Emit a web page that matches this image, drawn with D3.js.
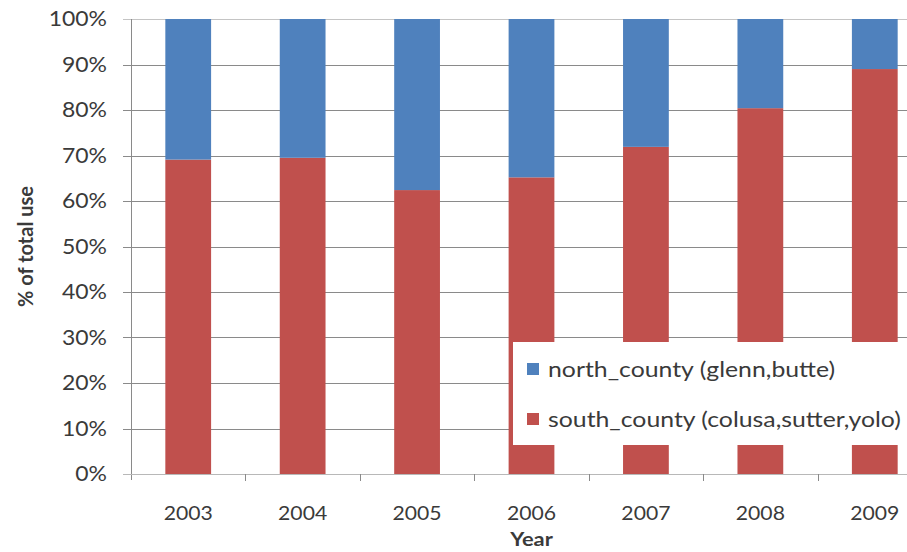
<!DOCTYPE html>
<html>
<head>
<meta charset="utf-8">
<script src="https://cdn.jsdelivr.net/npm/d3@7"></script>
<style>
  body { margin: 0; background: #fff; }
  svg { display: block; overflow: hidden; }
  text { font-family: Lato, "Open Sans", sans-serif; fill: #3a3a3a; }
</style>
</head>
<body>
<svg id="chart" width="907" height="552"></svg>
<script>
// values (share of total use, %)
var years = ["2003", "2004", "2005", "2006", "2007", "2008", "2009"];
var south = [69.1, 69.5, 62.4, 65.2, 71.9, 80.4, 89.0];
var north = [30.9, 30.5, 37.6, 34.8, 28.1, 19.6, 11.0];
var yTicks = [0, 10, 20, 30, 40, 50, 60, 70, 80, 90, 100];
var seriesNames = ["north_county (glenn,butte)", "south_county (colusa,sutter,yolo)"];
var seriesColors = ["#4F81BD", "#C0504D"];

var svg = d3.select("#chart");
var plotL = 131, plotT = 19, plotB = 474, plotR = 932;
var gridColor = "#8a8a8a";

var x = d3.scaleBand().domain(years).range([plotL, plotR])
    .paddingInner(0.6).paddingOuter(0.3);
var y = d3.scaleLinear().domain([0, 100]).range([plotB, plotT]);

var rows = years.map(function(yr, i) {
    return { year: yr, south: south[i], north: north[i] };
});
var stack = d3.stack().keys(["south", "north"])(rows);

// gridlines + y ticks
svg.append("g")
    .selectAll("line")
    .data(yTicks.slice(1))
    .enter().append("line")
    .attr("x1", plotL - 8).attr("x2", plotR)
    .attr("y1", function(d) { return Math.round(y(d)) + 0.5; })
    .attr("y2", function(d) { return Math.round(y(d)) + 0.5; })
    .style("stroke", function(d) { return d == 100 ? "#c4c4c4" : gridColor; });

// bars
var colorOf = { south: seriesColors[1], north: seriesColors[0] };
svg.append("g")
    .selectAll("g")
    .data(stack)
    .enter().append("g")
    .style("fill", function(d) { return colorOf[d.key]; })
    .selectAll("rect")
    .data(function(d) { return d; })
    .enter().append("rect")
    .attr("x", function(d) { return x(d.data.year); })
    .attr("width", x.bandwidth())
    .attr("y", function(d) { return y(d[1]); })
    .attr("height", function(d) { return y(d[0]) - y(d[1]); });

// y axis line and labels
svg.append("line")
    .attr("x1", plotL + 0.5).attr("x2", plotL + 0.5)
    .attr("y1", plotT).attr("y2", plotB + 6)
    .style("stroke", gridColor);
svg.append("g")
    .selectAll("text")
    .data(yTicks)
    .enter().append("text")
    .attr("transform", function(d) { return "translate(107," + y(d) + ") scale(1.12,1)"; })
    .attr("dy", "0.36em")
    .attr("text-anchor", "end")
    .style("font-size", "20.5px")
    .text(function(d) { return d + "%"; });

// x axis line and boundary ticks
svg.append("line")
    .attr("x1", plotL - 8).attr("x2", plotR)
    .attr("y1", plotB + 0.5).attr("y2", plotB + 0.5)
    .style("stroke", "#b8b8b8");
svg.append("g")
    .selectAll("line")
    .data(years.slice(1))
    .enter().append("line")
    .attr("x1", function(d) { return Math.round(x(d) - x.step() * x.paddingInner() / 2) + 0.5; })
    .attr("x2", function(d) { return Math.round(x(d) - x.step() * x.paddingInner() / 2) + 0.5; })
    .attr("y1", plotB).attr("y2", plotB + 7)
    .style("stroke", gridColor);

svg.append("g")
    .selectAll("text")
    .data(years)
    .enter().append("text")
    .attr("transform", function(d) {
        return "translate(" + (x(d) + x.bandwidth() / 2) + ",520) scale(1.06,1)";
    })
    .attr("text-anchor", "middle")
    .style("font-size", "20px")
    .text(function(d) { return d; });

// axis titles
svg.append("text")
    .attr("transform", "translate(" + (plotL + plotR) / 2 + ",546) scale(1.18,1)")
    .attr("text-anchor", "middle")
    .style("font-size", "18.5px").style("font-weight", "bold")
    .text("Year");
svg.append("text")
    .attr("transform", "translate(33," + (plotT + plotB) / 2 + ") rotate(-90)")
    .attr("text-anchor", "middle")
    .style("font-size", "20px").style("font-weight", "bold")
    .text("% of total use");

// legend
var legend = svg.append("g").attr("transform", "translate(513,342)");
legend.append("rect")
    .attr("width", 420).attr("height", 103)
    .style("fill", "#fff");
var item = legend.selectAll("g")
    .data(seriesNames)
    .enter().append("g")
    .attr("transform", function(d, i) { return "translate(0," + (21 + i * 50) + ")"; });
item.append("rect")
    .attr("x", 14).attr("width", 12).attr("height", 12)
    .style("fill", function(d, i) { return seriesColors[i]; });
item.append("text")
    .attr("transform", "translate(35,14) scale(1.21,1)")
    .style("font-size", "20.5px")
    .text(function(d) { return d; });
</script>
</body>
</html>
